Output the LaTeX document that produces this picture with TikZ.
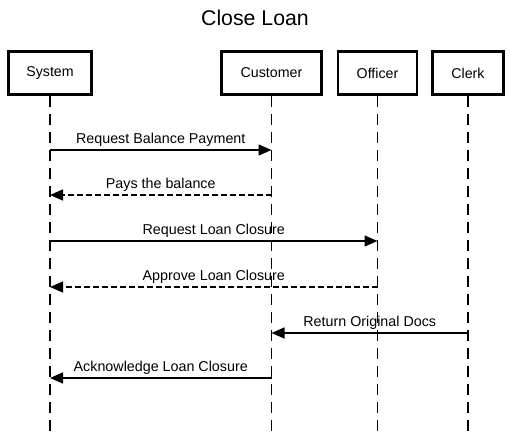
\documentclass[tikz,border=0pt]{standalone}
\usepackage{fontspec}
\setmainfont{Liberation Sans}
\usetikzlibrary{arrows.meta}
\begin{document}
\begin{tikzpicture}[x=1pt,y=-1pt,
  actor/.style={draw=black,line width=2.6pt,minimum height=43pt,inner sep=0pt,font=\fontsize{14.2}{16}\selectfont,fill=white},
  life/.style={line width=1.4pt,dash pattern=on 11pt off 7pt},
  msg/.style={line width=1.4pt,-{Triangle[length=13pt,width=11pt]}},
  reply/.style={msg,dash pattern=on 5.5pt off 3.5pt},
  lbl/.style={font=\fontsize{14.3}{16}\selectfont,above=2pt,inner sep=1pt}]
\useasboundingbox (0,0) rectangle (510,435);
\node[font=\fontsize{21.3}{24}\selectfont] (title) at (255,18) {Close Loan};
\node[actor,minimum width=83pt] (sys) at (50,73) {System};
\node[actor,minimum width=100pt] (cus) at (271.5,73) {Customer};
\node[actor,minimum width=79pt] (off) at (377.5,73) {Officer};
\node[actor,minimum width=71pt] (clk) at (468,73) {Clerk};
\coordinate (bot) at (0,435);
\foreach \a in {sys,cus,off,clk}{
  \draw[life] (\a.south) -- (\a.south |- bot);
}
\coordinate (m1) at (0,150);
\coordinate (m2) at (0,195);
\coordinate (m3) at (0,241);
\coordinate (m4) at (0,287);
\coordinate (m5) at (0,333);
\coordinate (m6) at (0,378);
\draw[msg] (sys.south |- m1) -- node[lbl]{Request Balance Payment} (cus.south |- m1);
\draw[reply] (cus.south |- m2) -- node[lbl]{Pays the balance} (sys.south |- m2);
\draw[msg] (sys.south |- m3) -- node[lbl]{Request Loan Closure} (off.south |- m3);
\draw[reply] (off.south |- m4) -- node[lbl]{Approve Loan Closure} (sys.south |- m4);
\draw[msg] (clk.south |- m5) -- node[lbl]{Return Original Docs} (cus.south |- m5);
\draw[msg] (cus.south |- m6) -- node[lbl]{Acknowledge Loan Closure} (sys.south |- m6);
\end{tikzpicture}
\end{document}
